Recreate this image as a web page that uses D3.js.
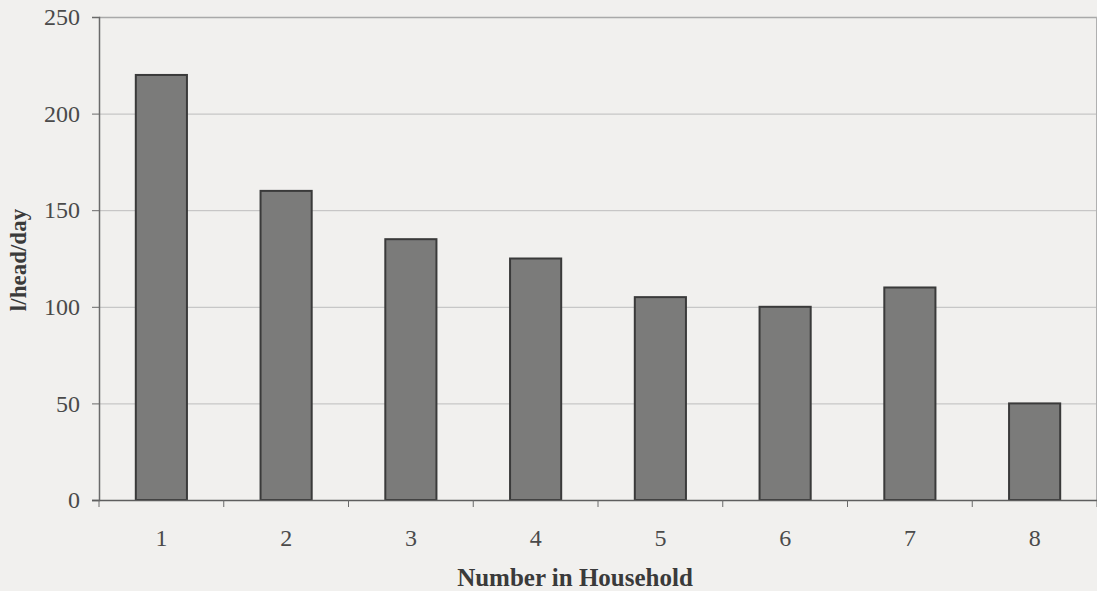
<!DOCTYPE html>
<html>
<head>
<meta charset="utf-8">
<script src="https://cdn.jsdelivr.net/npm/d3@7"></script>
<style>
  html, body { margin: 0; padding: 0; background: #f1f0ee; }
  svg { display: block; }
  text { font-family: "Liberation Serif", "Times New Roman", serif; }
</style>
</head>
<body>
<svg id="chart" width="1097" height="591"></svg>
<script>
// Household water use per person
const categories = ["1", "2", "3", "4", "5", "6", "7", "8"];
const litresPerHead = [220, 160, 135, 125, 105, 100, 110, 50];
const yTicks = [0, 50, 100, 150, 200, 250];

const width = 1097, height = 591;
const margin = { top: 17, right: 0, bottom: 91, left: 99 };

const svg = d3.select("#chart");
svg.append("rect").attr("width", width).attr("height", height).attr("fill", "#f1f0ee");

const x = d3.scaleBand()
  .domain(categories)
  .range([margin.left, width - margin.right])
  .paddingInner(0.59)
  .paddingOuter(0.295);

const y = d3.scaleLinear()
  .domain([0, 250])
  .range([height - margin.bottom, margin.top]);

// horizontal gridlines
svg.append("g")
  .selectAll("line")
  .data(yTicks.filter(d => d > 0))
  .join("line")
  .attr("x1", margin.left)
  .attr("x2", width)
  .attr("y1", d => y(d) + 0.5)
  .attr("y2", d => y(d) + 0.5)
  .attr("stroke", d => d === 250 ? "#a9a9a9" : "#bdbdbd")
  .attr("stroke-width", d => d === 250 ? 1.5 : 1);

// right border of plot area
svg.append("line")
  .attr("x1", width - 0.5).attr("x2", width - 0.5)
  .attr("y1", y(250)).attr("y2", y(0))
  .attr("stroke", "#b0b0b0");

// bars
svg.append("g")
  .selectAll("rect")
  .data(litresPerHead)
  .join("rect")
  .attr("x", (d, i) => x(categories[i]))
  .attr("y", d => y(d))
  .attr("width", x.bandwidth())
  .attr("height", d => y(0) - y(d))
  .attr("fill", "#7b7b7a")
  .attr("stroke", "#3a3a3a")
  .attr("stroke-width", 2);

// y axis
const yAxis = d3.axisLeft(y)
  .tickValues(yTicks)
  .tickSize(7)
  .tickPadding(12)
  .tickFormat(d3.format("d"));

const gy = svg.append("g")
  .attr("transform", `translate(${margin.left},0)`)
  .call(yAxis);
gy.select(".domain").attr("stroke", "#6a6a6a").attr("stroke-width", 1.5);
gy.selectAll(".tick line").attr("stroke", "#6a6a6a");
gy.selectAll(".tick text")
  .attr("font-size", 24)
  .attr("fill", "#4a4a4a")
  .attr("font-family", "Liberation Serif, serif");

// x axis: ticks on category boundaries, labels at category centres
const gx = svg.append("g")
  .attr("transform", `translate(0,${y(0)})`);
gx.append("line")
  .attr("x1", margin.left - 7).attr("x2", width)
  .attr("y1", 0.5).attr("y2", 0.5)
  .attr("stroke", "#5e5e5e").attr("stroke-width", 1.5);

const step = x.step();
const boundaries = d3.range(categories.length + 1).map(i => margin.left + i * step);
gx.selectAll(".bound")
  .data(boundaries)
  .join("line")
  .attr("class", "bound")
  .attr("x1", d => d).attr("x2", d => d)
  .attr("y1", 0).attr("y2", 7)
  .attr("stroke", "#6a6a6a");

gx.selectAll(".xlab")
  .data(categories)
  .join("text")
  .attr("class", "xlab")
  .attr("x", d => x(d) + x.bandwidth() / 2)
  .attr("y", 46)
  .attr("text-anchor", "middle")
  .attr("font-size", 24)
  .attr("fill", "#4a4a4a")
  .text(d => d);

// axis titles
svg.append("text")
  .attr("x", 575)
  .attr("y", 586)
  .attr("text-anchor", "middle")
  .attr("font-size", 25)
  .attr("font-weight", "bold")
  .attr("fill", "#3a3a3a")
  .text("Number in Household");

svg.append("text")
  .attr("transform", "translate(26,260) rotate(-90)")
  .attr("text-anchor", "middle")
  .attr("font-size", 23)
  .attr("font-weight", "bold")
  .attr("fill", "#3a3a3a")
  .text("l/head/day");
</script>
</body>
</html>
